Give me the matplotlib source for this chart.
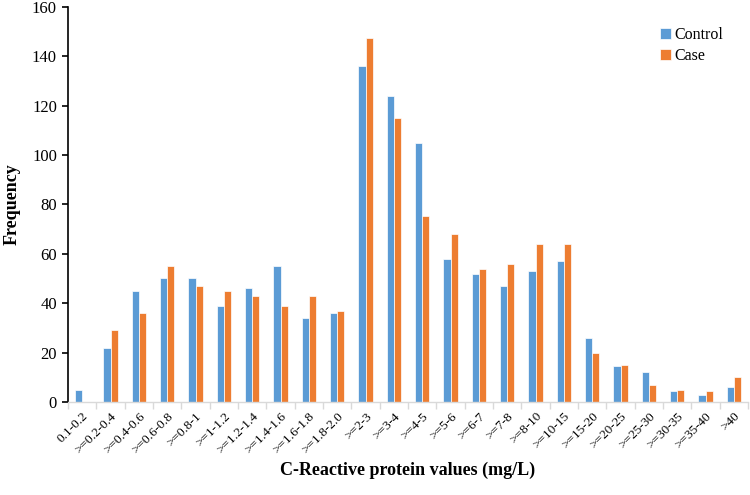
import matplotlib
matplotlib.use("Agg")
import matplotlib.pyplot as plt
import numpy as np
from matplotlib import ticker

plt.rcParams['font.family'] = ['Liberation Serif', 'DejaVu Serif']

categories = ['0.1-0.2', '>=0.2-0.4', '>=0.4-0.6', '>=0.6-0.8', '>=0.8-1', '>=1-1.2',
              '>=1.2-1.4', '>=1.4-1.6', '>=1.6-1.8', '>=1.8-2.0', '>=2-3', '>=3-4',
              '>=4-5', '>=5-6', '>=6-7', '>=7-8', '>=8-10', '>=10-15', '>=15-20',
              '>=20-25', '>=25-30', '>=30-35', '>=35-40', '>40']
control = [5, 22, 45, 50, 50, 39, 46, 55, 34, 36, 136, 124, 105, 58, 52, 47, 53, 57,
           26, 14.5, 12, 4.5, 3, 6]
case = [0, 29, 36, 55, 47, 45, 43, 39, 43, 37, 147.5, 115, 75.5, 68, 54, 56, 64, 64,
        20, 15, 7, 5, 4.5, 10]

fig = plt.figure(figsize=(7.5, 4.95), dpi=100)
ax = fig.add_axes([0.0907, 0.188, 0.9067, 0.798])

x = np.arange(len(categories))
w = 0.25
ax.bar(x - w / 2, control, w, color='#5B9BD5', edgecolor='white', linewidth=0.5, label='Control')
ax.bar(x + w / 2, case, w, color='#ED7D31', edgecolor='white', linewidth=0.5, label='Case')

ax.set_xlim(-0.5, len(categories) - 0.5)
ax.set_ylim(0, 160)
ax.yaxis.set_major_locator(ticker.MultipleLocator(20))

ax.spines['top'].set_visible(False)
ax.spines['right'].set_visible(False)
ax.spines['left'].set_color('black')
ax.spines['left'].set_linewidth(1.2)
ax.spines['bottom'].set_color('#D9D9D9')
ax.spines['bottom'].set_linewidth(1.0)

ax.tick_params(axis='y', direction='out', length=4, width=1.2, color='black',
               labelsize=12, pad=4)
ax.set_xticks(x)
ax.set_xticklabels(categories, rotation=45, ha='right', va='top',
                   rotation_mode='anchor', fontsize=9.5)
ax.tick_params(axis='x', which='major', length=0, pad=6)
ax.set_xticks(np.arange(len(categories) + 1) - 0.5, minor=True)
ax.tick_params(axis='x', which='minor', direction='out', length=5, width=1.0, color='#D9D9D9')

ax.set_xlabel('C-Reactive protein values (mg/L)', fontsize=13, fontweight='bold', labelpad=4)
ax.set_ylabel('Frequency', fontsize=13, fontweight='bold', labelpad=8)

ax.legend(loc='upper right', bbox_to_anchor=(0.985, 0.985), frameon=False, fontsize=11.5,
          handlelength=0.7, handleheight=0.7, handletextpad=0.2, labelspacing=0.3)

fig.savefig('out.png', dpi=100)
